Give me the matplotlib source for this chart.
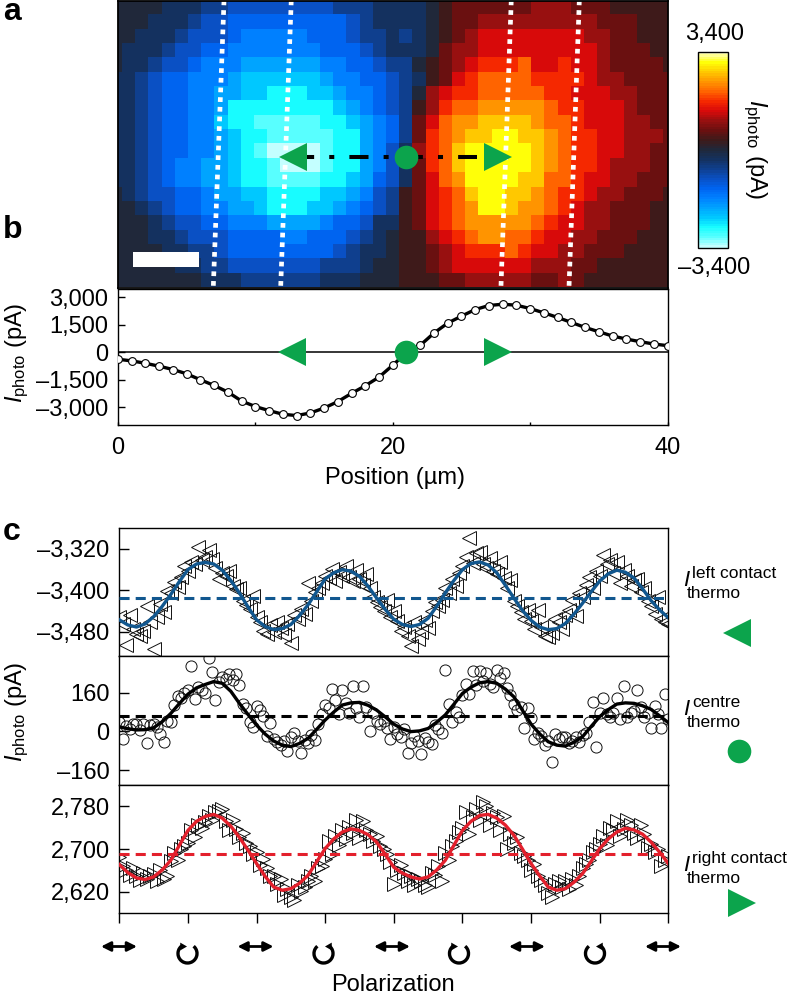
import numpy as np
import matplotlib
matplotlib.use("Agg")
import matplotlib.pyplot as plt
from matplotlib.colors import LinearSegmentedColormap
from matplotlib.patches import Arc, Rectangle

plt.rcParams['font.family'] = ['Liberation Sans', 'DejaVu Sans']
plt.rcParams['mathtext.fontset'] = 'custom'
plt.rcParams['mathtext.rm'] = 'Liberation Sans'
plt.rcParams['mathtext.it'] = 'Liberation Sans:italic'
plt.rcParams['mathtext.default'] = 'regular'

# photocurrent map, in colour levels of 340 pA (left part of the scan)
heat_left = [
    [0,0,0,0,-1,-1,-1,-2,-2,-3,-3,-3,-3,-3,-3,-3,-3,-2,-2,-2,-1,-1],
    [0,0,0,-1,-1,-1,-2,-3,-3,-4,-4,-4,-4,-4,-4,-4,-4,-4,-3,-2,-1,-1],
    [0,0,-1,-1,-1,-2,-3,-3,-3,-4,-5,-5,-5,-5,-5,-4,-4,-4,-3,-2,-2,-1],
    [0,-1,-1,-1,-2,-3,-3,-4,-4,-5,-5,-5,-5,-5,-5,-5,-4,-4,-4,-3,-2,-1],
    [0,-1,-1,-2,-3,-3,-4,-5,-5,-5,-6,-6,-6,-6,-6,-6,-5,-5,-4,-4,-3,-2],
    [-1,-1,-2,-3,-4,-4,-5,-5,-5,-6,-7,-7,-7,-7,-7,-7,-6,-5,-5,-4,-4,-3],
    [-1,-1,-2,-3,-4,-4,-5,-5,-6,-6,-7,-7,-8,-8,-8,-7,-7,-6,-5,-5,-4,-3],
    [-1,-1,-2,-3,-4,-4,-5,-5,-6,-8,-8,-8,-8,-8,-8,-8,-8,-7,-6,-5,-4,-3],
    [-1,-1,-2,-3,-4,-4,-5,-5,-7,-8,-8,-9,-9,-9,-9,-9,-8,-8,-7,-6,-5,-4],
    [-1,-1,-2,-3,-4,-4,-5,-5,-6,-7,-8,-8,-9,-9,-9,-9,-9,-8,-8,-6,-5,-4],
    [-1,-1,-2,-3,-4,-4,-5,-5,-6,-7,-8,-9,-10,-10,-10,-10,-9,-8,-8,-6,-5,-3],
    [-1,-1,-2,-3,-4,-5,-5,-6,-6,-7,-8,-8,-9,-10,-10,-10,-9,-8,-8,-6,-5,-3],
    [-1,-1,-2,-3,-4,-5,-5,-6,-6,-7,-8,-8,-9,-9,-9,-9,-8,-8,-7,-6,-4,-3],
    [0,-1,-2,-3,-3,-4,-4,-5,-6,-6,-7,-7,-8,-8,-8,-8,-7,-7,-6,-5,-3,-2],
    [0,0,-1,-2,-3,-4,-4,-5,-5,-6,-6,-7,-8,-8,-8,-7,-7,-6,-5,-4,-3,-2],
    [0,0,0,-1,-2,-3,-3,-4,-4,-5,-5,-5,-6,-6,-6,-6,-5,-4,-4,-3,-1,-1],
    [0,0,0,-1,-1,-2,-3,-3,-3,-4,-4,-4,-4,-5,-5,-4,-4,-4,-3,-2,-1,0],
    [0,0,0,0,-1,-1,-2,-2,-3,-4,-4,-4,-4,-4,-4,-4,-4,-3,-2,-1,-1,0],
    [0,0,0,0,0,-1,-1,-2,-2,-3,-3,-3,-3,-3,-3,-3,-2,-2,-2,-1,0,0],
    [0,0,0,0,0,0,0,-1,-1,-1,-2,-2,-2,-2,-2,-2,-1,-1,-1,0,0,0],
]
# right part of the scan
heat_right = [
    [-1,-1,0,1,2,2,2,2,2,2,3,3,3,2,2,2,1,1,1,1,1],
    [-1,-1,0,1,2,2,3,3,3,3,3,3,3,3,3,2,2,2,1,1,1],
    [-2,-1,0,1,2,3,4,4,4,4,4,4,4,4,3,3,2,2,1,1,1],
    [-1,-1,0,2,3,3,4,4,4,4,4,4,4,4,4,3,2,2,2,1,1],
    [-2,0,1,2,3,4,5,5,5,6,4,4,5,4,4,3,2,2,2,2,1],
    [-2,-1,1,2,4,5,6,6,6,6,5,5,5,5,4,3,3,2,2,2,2],
    [-2,0,3,4,5,5,6,6,6,6,6,5,5,4,4,4,3,3,2,2,2],
    [-2,1,3,5,6,6,7,7,7,7,7,6,5,5,4,4,4,3,2,2,2],
    [-2,2,4,6,7,7,8,8,8,8,7,6,6,5,4,4,4,3,3,2,2],
    [-2,2,5,6,7,8,8,9,9,8,8,7,6,5,5,4,4,3,3,3,2],
    [-1,3,5,6,8,9,9,9,9,9,8,7,6,5,5,4,4,3,3,2,2],
    [-1,2,5,6,8,9,9,9,9,9,8,7,6,5,5,4,3,3,3,2,2],
    [-1,2,4,6,7,9,9,9,9,8,8,6,6,5,4,4,3,3,2,2,2],
    [1,2,4,5,6,8,9,9,8,8,7,6,5,5,4,3,3,2,2,2,1],
    [1,2,4,5,6,7,9,9,8,7,7,6,5,4,3,3,2,2,2,1,1],
    [1,2,4,5,6,7,7,7,7,7,6,5,4,4,3,3,2,2,2,1,1],
    [1,1,3,4,5,6,7,7,6,6,5,4,4,3,3,2,2,2,1,1,1],
    [1,1,2,3,4,5,5,5,6,5,4,4,3,3,2,2,2,1,1,1,1],
    [1,1,2,3,4,4,4,4,4,4,3,3,3,2,2,1,1,1,1,1,1],
    [1,1,1,2,2,3,3,3,3,3,2,2,3,2,1,1,1,1,1,1,1],
]
heat_colors = ['#c4ffff', '#58ffff', '#18fcff', '#00c8ff', '#00a4ff', '#0080ff', '#0064f0',
               '#0a50c4', '#0f3f8e', '#14315f', '#20283a', '#3e1a1a', '#6a1010', '#981010',
               '#d80a0a', '#f52800', '#ff6400', '#ff9400', '#ffc800', '#ffff08', '#ffffc0']

# line profile across the device (pA)
profile_x = list(range(41))
profile_y = [-380, -470, -600, -760, -940, -1175, -1500, -1810, -2170, -2660, -2960,
             -3180, -3380, -3450, -3310, -3040, -2690, -2240, -1825, -1355, -705,
             -20, 380, 1048, 1590, 1970, 2330, 2550, 2620, 2566, 2385,
             2150, 1900, 1626, 1355, 1120, 885, 723, 578, 452, 361]

# fits at every eighth of a polarization tick
fit_left = [-3457, -3467, -3471, -3465, -3451, -3431, -3408, -3383, -3360, -3349, -3346, -3349,
            -3361, -3381, -3405, -3432, -3457, -3470, -3476, -3474, -3466, -3449, -3428, -3403,
            -3378, -3366, -3360, -3363, -3373, -3392, -3415, -3437, -3456, -3466, -3470, -3466,
            -3454, -3431, -3405, -3381, -3360, -3348, -3345, -3351, -3366, -3390, -3415, -3439,
            -3458, -3471, -3476, -3474, -3464, -3446, -3425, -3403, -3382, -3368, -3361, -3365,
            -3376, -3397, -3420, -3438, -3453]
fit_centre = [19, 11, 6, 7, 15, 40, 74, 115, 154, 180, 194, 206, 199, 166, 116, 70, 26, -11, -40,
              -57, -63, -50, -29, 8, 47, 80, 109, 118, 120, 108, 88, 60, 30, 10, -1, 2, 12, 38, 68,
              112, 157, 183, 201, 206, 199, 175, 143, 87, 30, -10, -43, -57, -61, -45, -22, 20, 61,
              90, 113, 118, 116, 106, 91, 64, 36]
fit_right = [2671, 2656, 2646, 2643, 2648, 2661, 2679, 2707, 2735, 2752, 2761, 2765, 2758, 2743,
             2722, 2698, 2673, 2649, 2629, 2623, 2626, 2636, 2651, 2676, 2701, 2719, 2732, 2738,
             2735, 2727, 2713, 2690, 2666, 2655, 2648, 2644, 2648, 2661, 2679, 2707, 2735, 2752,
             2763, 2765, 2758, 2745, 2726, 2700, 2673, 2650, 2629, 2623, 2626, 2638, 2654, 2677,
             2701, 2719, 2732, 2739, 2736, 2728, 2713, 2694, 2673]
mean_left = -3414
mean_centre = 65
mean_right = 2691

# measured points, five per quarter tick
meas_left = [
    -3452,-3466,-3506,-3448,-3474, -3484,-3488,-3478,-3430,-3461,
    -3513,-3452,-3426,-3441,-3401, -3405,-3383,-3394,-3375,-3352,
    -3362,-3345,-3350,-3316,-3341, -3335,-3322,-3339,-3356,-3378,
    -3366,-3372,-3362,-3392,-3398, -3395,-3420,-3428,-3436,-3410,
    -3452,-3462,-3478,-3484,-3468, -3481,-3462,-3472,-3487,-3466,
    -3502,-3448,-3455,-3436,-3445, -3385,-3420,-3404,-3396,-3386,
    -3372,-3376,-3358,-3382,-3364, -3372,-3352,-3375,-3382,-3360,
    -3378,-3390,-3368,-3395,-3412, -3422,-3432,-3440,-3418,-3452,
    -3440,-3460,-3478,-3470,-3488, -3508,-3462,-3495,-3480,-3458,
    -3472,-3440,-3422,-3430,-3418, -3395,-3405,-3378,-3392,-3366,
    -3352,-3335,-3299,-3348,-3328, -3326,-3350,-3356,-3338,-3362,
    -3368,-3345,-3376,-3396,-3380, -3420,-3430,-3442,-3455,-3438,
    -3460,-3475,-3438,-3470,-3488, -3490,-3482,-3455,-3462,-3475,
    -3448,-3438,-3418,-3450,-3405, -3412,-3390,-3375,-3395,-3362,
    -3372,-3331,-3350,-3342,-3366, -3345,-3385,-3360,-3372,-3392,
    -3380,-3378,-3404,-3396,-3420, -3430,-3445,-3412,-3455,-3462, -3466]
meas_centre = [
    38,-30,22,8,30, 30,5,32,-50,28,
    30,18,-10,-43,45, 40,110,145,138,160,
    170,272,135,185,172, 160,302,245,130,205,
    225,218,238,212,236, 190,115,95,40,20,
    105,90,62,-20,35, -30,-42,-58,-38,-81,
    -25,-5,-40,-88,-34, -50,-15,-35,30,70,
    110,95,174,130,70, 171,118,75,188,95,
    60,188,100,1,75, 42,30,45,15,-33,
    20,-10,-25,8,-88, -50,-20,-38,-94,-28,
    -45,-54,28,10,-5, 254,115,40,82,58,
    150,195,155,251,190, 248,210,240,195,185,
    254,220,240,180,150, 115,90,100,15,95,
    55,-30,-5,-20,-55, -40,-125,-10,-30,-25,
    -25,-50,-40,-25,-45, -15,-5,40,123,-63,
    75,139,70,60,75, 140,50,188,60,78,
    85,171,100,60,75, 12,105,70,12,153, 50]
meas_right = [
    2686,2668,2660,2652,2665, 2650,2642,2655,2645,2650,
    2654,2640,2660,2645,2650, 2678,2692,2680,2700,2705,
    2712,2735,2722,2745,2740, 2750,2762,2755,2770,2772,
    2775,2752,2735,2755,2738, 2722,2730,2712,2705,2690,
    2695,2670,2682,2665,2650, 2650,2635,2645,2615,2625,
    2610,2604,2632,2622,2630, 2640,2650,2640,2664,2668,
    2682,2715,2690,2725,2708, 2735,2718,2742,2730,2755,
    2720,2752,2735,2728,2715, 2725,2705,2700,2690,2675,
    2635,2660,2670,2655,2640, 2650,2632,2645,2640,2632,
    2630,2655,2652,2668,2640, 2692,2680,2705,2715,2732,
    2740,2770,2728,2760,2775, 2755,2788,2780,2745,2768,
    2760,2735,2762,2700,2728, 2712,2722,2692,2688,2680,
    2660,2672,2650,2642,2632, 2618,2610,2635,2640,2630,
    2640,2625,2645,2632,2650, 2665,2672,2680,2695,2700,
    2710,2725,2708,2740,2735, 2752,2725,2738,2755,2745,
    2730,2720,2745,2728,2702, 2710,2695,2700,2668,2680, 2688]

fit_x = np.arange(65) / 8
meas_x = np.linspace(0, 8, 161)

GREEN = '#0ca44c'
BLUE = '#11578f'
RED = '#e3202c'
FS = 17


def px_axes(left, top, right, bottom):
    return fig.add_axes([left / 788, 1 - bottom / 1000, (right - left) / 788, (bottom - top) / 1000])


def dress(ax):
    for s in ax.spines.values():
        s.set_linewidth(1.0)


fig = plt.figure(figsize=(7.88, 10), dpi=100)

# panel a, map
ax_a = px_axes(118, 0.5, 668, 287.5)
heat = np.hstack([np.array(heat_left), np.array(heat_right)]) * 340
cmap = LinearSegmentedColormap.from_list('iphoto', heat_colors, N=81)
im = ax_a.imshow(heat, cmap=cmap, vmin=-3400, vmax=3400, aspect='auto', interpolation='nearest',
                 extent=(-0.669, -0.669 + 43 * 0.96, 20, 0))
ax_a.set_xlim(0, 40)
ax_a.set_ylim(20, 0)
ax_a.set_xticks([])
ax_a.set_yticks([])
for s in ax_a.spines.values():
    s.set_linewidth(1.3)
for x0, x1 in [(7.71, 6.93), (12.6, 11.83), (28.6, 27.85), (33.55, 32.8)]:
    ax_a.plot([x0, x1], [0, 20], color='white', lw=3.4, ls=(0, (1, 1.05)), dash_capstyle='butt')
ax_a.add_patch(Rectangle((1.1, 17.54), 4.8, 1.05, color='white', lw=0))
ax_a.plot([12.85, 26.1], [10.93, 10.93], color='black', lw=2.9,
          ls=(0, (4.75, 3.75, 1.25, 3.75)), dash_capstyle='butt')
ax_a.plot(12.7, 10.93, '<', color=GREEN, ms=20.5, mew=0)
ax_a.plot(20.95, 10.93, 'o', color=GREEN, ms=17, mew=0)
ax_a.plot(27.66, 10.93, '>', color=GREEN, ms=20.5, mew=0)

# colour bar
cax = px_axes(698, 51.7, 727.7, 247.7)
cbar = fig.colorbar(im, cax=cax)
cbar.set_ticks([])
cbar.outline.set_linewidth(1.0)

# panel b, profile
ax_b = px_axes(118, 289, 667.5, 425)
ax_b.axhline(0, color='black', lw=1.1, zorder=1)
ax_b.plot(profile_x, profile_y, '-o', color='black', lw=2.4, ms=5.6, mfc='white', mec='black',
          mew=0.8, zorder=3)
ax_b.plot(12.7, 0, '<', color=GREEN, ms=20.5, mew=0, zorder=4)
ax_b.plot(20.95, 0, 'o', color=GREEN, ms=17, mew=0, zorder=4)
ax_b.plot(27.66, 0, '>', color=GREEN, ms=20.5, mew=0, zorder=4)
ax_b.set_xlim(0, 40)
ax_b.set_ylim(-3965, 3450)
ax_b.set_xticks([0, 10, 20, 30, 40], ['0', '', '20', '', '40'], fontsize=FS)
ax_b.set_yticks([3000, 1500, 0, -1500, -3000], ['3,000', '1,500', '0', '–1,500', '–3,000'], fontsize=FS)
ax_b.tick_params(axis='x', direction='in', length=2.5, width=1, pad=9)
ax_b.tick_params(axis='y', direction='in', length=5, width=1, pad=7)
dress(ax_b)

# panel c, three polarization traces
axes_c = [px_axes(119.3, 528.3, 668.3, 656), px_axes(119.3, 656, 668.3, 785), px_axes(119.3, 785, 668.3, 912.7)]
traces = [(meas_left, fit_left, mean_left, '<', BLUE, 9.5),
          (meas_centre, fit_centre, mean_centre, 'o', 'black', 8),
          (meas_right, fit_right, mean_right, '>', RED, 9.5)]
limits = [(-3527, -3280), (-222, 312), (2581, 2820)]
yticks = [[-3320, -3400, -3480], [160, 0, -160], [2780, 2700, 2620]]
ylabels = [['–3,320', '–3,400', '–3,480'], ['160', '0', '–160'], ['2,780', '2,700', '2,620']]
for i, ax in enumerate(axes_c):
    meas, fit, mean, mark, col, ms = traces[i]
    ax.plot(meas_x, meas, mark, mfc='none', mec='#111111', mew=0.7, ms=ms, zorder=2)
    ax.axhline(mean, color=col, lw=2.2, ls=(0, (3.3, 2.0)), zorder=3)
    ax.plot(fit_x, fit, '-', color=col, lw=2.4, zorder=4, solid_joinstyle='round')
    ax.set_xlim(0, 8)
    ax.set_ylim(*limits[i])
    ax.set_yticks(yticks[i], ylabels[i], fontsize=FS)
    ax.tick_params(axis='y', direction='in', length=7, width=1, pad=7)
    ax.set_xticks(range(9))
    if i < 2:
        ax.tick_params(axis='x', length=0, labelbottom=False)
    else:
        ax.set_xticklabels([])
        ax.tick_params(axis='x', direction='out', length=7.5, width=1)
    dress(ax)

# everything placed by hand goes on an overlay in pixel units
ov = fig.add_axes([0, 0, 1, 1], facecolor='none')
ov.set_xlim(0, 788)
ov.set_ylim(1000, 0)
ov.axis('off')

for label, y in [('a', 20), ('b', 238), ('c', 540)]:
    ov.text(3, y, label, fontsize=23, fontweight='bold', ha='left', va='baseline')

ov.text(715, 34, '3,400', fontsize=FS, ha='center', va='center')
ov.text(714, 268, '–3,400', fontsize=FS, ha='center', va='center')
ov.text(755, 149, r'$\mathit{I}_{photo}$ (pA)', fontsize=FS, rotation=270, ha='center', va='center')
ov.text(395, 478, 'Position (µm)', fontsize=FS, ha='center', va='center')
ov.text(17, 353, r'$\mathit{I}_{photo}$ (pA)', fontsize=FS, rotation=90, ha='center', va='center')
ov.text(17, 712, r'$\mathit{I}_{photo}$ (pA)', fontsize=FS, rotation=90, ha='center', va='center')
ov.text(393, 985, 'Polarization', fontsize=FS, ha='center', va='center')

# side labels of the traces
for y, sup in [(578, 'left contact'), (707, 'centre'), (863, 'right contact')]:
    ov.text(683, y + 8, 'I', fontsize=16, style='italic', ha='left', va='baseline')
    ov.text(692, y, sup, fontsize=12.5, ha='left', va='baseline')
    ov.text(687, y + 20, 'thermo', fontsize=12.5, ha='left', va='baseline')
ov.plot(737.5, 632.5, '<', color=GREEN, ms=20.5, mew=0)
ov.plot(739, 751, 'o', color=GREEN, ms=17, mew=0)
ov.plot(742, 903, '>', color=GREEN, ms=20.5, mew=0)

# polarization symbols under the axis
for cx in [119, 255.5, 392, 527, 663]:
    ov.annotate('', xy=(cx - 18, 946.5), xytext=(cx + 18, 946.5),
                arrowprops=dict(arrowstyle='<|-|>', color='black', lw=2, mutation_scale=14,
                                shrinkA=0, shrinkB=0))
for cx, head in [(187.5, -1), (323.5, 1), (459, -1), (595, 1)]:
    if head < 0:
        ov.add_patch(Arc((cx, 953.5), 19, 19, theta1=-50, theta2=232, color='black', lw=2.4))
    else:
        ov.add_patch(Arc((cx, 953.5), 19, 19, theta1=-52, theta2=230, color='black', lw=2.4))
    ov.plot(cx + head * 5.5, 945.5, marker=(3, 0, head * 90), color='black', ms=6.5, mew=0)

fig.savefig('out.png', dpi=100)
